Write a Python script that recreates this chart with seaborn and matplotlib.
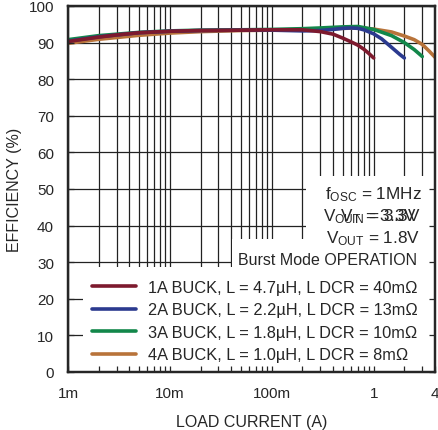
import numpy as np
import pandas as pd
import matplotlib
matplotlib.use("Agg")
import matplotlib.pyplot as plt
import matplotlib.ticker as mticker
from matplotlib.patches import Rectangle
import seaborn as sns

# efficiency curves
x_1a = [0.001, 0.002, 0.003, 0.005, 0.01, 0.02, 0.05, 0.1, 0.2, 0.3, 0.4, 0.5, 0.6, 0.7, 0.8, 0.9, 1.0]
eff_1a = [90.3, 91.5, 92.1, 92.7, 93.1, 93.3, 93.4, 93.5, 93.5, 93.0, 92.3, 91.2, 90.2, 89.3, 88.2, 87.0, 85.8]

x_2a = [0.001, 0.002, 0.005, 0.01, 0.02, 0.05, 0.1, 0.2, 0.3, 0.4, 0.5, 0.6, 0.7, 0.8, 1.0, 1.2, 1.5, 1.8, 2.0]
eff_2a = [90.4, 91.6, 92.7, 93.1, 93.3, 93.4, 93.4, 93.2, 93.3, 93.6, 93.9, 94.0, 93.9, 93.5, 92.4, 91.0, 88.7, 86.8, 85.8]

x_3a = [0.001, 0.002, 0.005, 0.01, 0.02, 0.05, 0.1, 0.2, 0.3, 0.5, 0.7, 1.0, 1.5, 2.0, 2.5, 3.0]
eff_3a = [90.8, 91.9, 92.8, 93.2, 93.4, 93.5, 93.6, 93.8, 94.0, 94.3, 94.4, 93.6, 91.9, 90.0, 88.1, 86.2]

x_4a = [0.001, 0.002, 0.005, 0.01, 0.02, 0.05, 0.1, 0.2, 0.5, 0.7, 1.0, 1.5, 2.0, 2.5, 3.0, 3.5, 4.0]
eff_4a = [89.8, 90.9, 92.0, 92.6, 93.0, 93.3, 93.4, 93.6, 93.9, 94.0, 93.7, 92.9, 91.8, 90.8, 89.5, 87.7, 86.0]

labels = [
    "1A BUCK, L = 4.7µH, L DCR = 40mΩ",
    "2A BUCK, L = 2.2µH, L DCR = 13mΩ",
    "3A BUCK, L = 1.8µH, L DCR = 10mΩ",
    "4A BUCK, L = 1.0µH, L DCR = 8mΩ",
]
colors = ["#7d1a2e", "#2b3a8f", "#12874a", "#b8733a"]

x_ticks = [0.001, 0.01, 0.1, 1, 4]
x_ticklabels = ["1m", "10m", "100m", "1", "4"]
y_ticks = list(range(0, 101, 10))

sns.set_style("white")
plt.rcParams["font.family"] = ["Liberation Sans", "DejaVu Sans"]
plt.rcParams["mathtext.fontset"] = "custom"
plt.rcParams["mathtext.rm"] = "Liberation Sans"
plt.rcParams["mathtext.it"] = "Liberation Sans"

series = [(x_1a, eff_1a), (x_2a, eff_2a), (x_3a, eff_3a), (x_4a, eff_4a)]

fig = plt.figure(figsize=(4.38, 4.31), dpi=100)
rect = [68 / 438, 58 / 431, 367 / 438, 366 / 431]
ax = fig.add_axes(rect)

# draw 4A first so the 1A curve ends up on top
handles = {}
for i in [3, 2, 1, 0]:
    xs, ys = series[i]
    df = pd.DataFrame({"current": xs, "eff": ys})
    sns.lineplot(data=df, x="current", y="eff", ax=ax, color=colors[i],
                 lw=2.6, sort=False, estimator=None, zorder=2, label=labels[i])
    handles[i] = ax.get_lines()[-1]

ax.set_xscale("log")
ax.set_xlim(0.001, 4)
ax.set_ylim(0, 100)
ax.set_xticks(x_ticks)
ax.set_xticklabels(x_ticklabels)
ax.xaxis.set_minor_locator(mticker.LogLocator(base=10, subs=np.arange(2, 10)))
ax.xaxis.set_minor_formatter(mticker.NullFormatter())
ax.set_yticks(y_ticks)
ax.set_axisbelow(True)
ax.grid(True, which="both", axis="x", color="#222222", lw=0.9)
ax.grid(True, which="major", axis="y", color="#222222", lw=0.9)
ax.tick_params(axis="both", which="both", length=0, labelsize=11, pad=10)
for s in ax.spines.values():
    s.set_linewidth(1.6)
    s.set_color("black")

ax.set_xlabel("LOAD CURRENT (A)", fontsize=11.5, labelpad=10)
ax.set_ylabel("EFFICIENCY (%)", fontsize=11.5, labelpad=5)

# white boxes masking the grid behind the text
for (x0, y0, w, h) in [(0.649, 0.336, 0.36, 0.20), (0.447, 0.287, 0.56, 0.076), (0.041, 0.0, 0.97, 0.287)]:
    ax.add_patch(Rectangle((x0, y0), w, h, transform=ax.transAxes,
                           facecolor="white", edgecolor="none", zorder=1))

tkw = dict(transform=ax.transAxes, ha="right", va="baseline", fontsize=12.3, zorder=3)
ax.text(0.965, 0.475, "f$_{\\mathregular{OSC}}$ = 1MHz", **tkw)
ax.text(0.952, 0.415, "V$_{\\mathregular{OUT}}$ = 3.3V", **tkw)
ax.text(0.960, 0.415, "V$_{\\mathregular{IN}}$ = 3.3V", **tkw)
ax.text(0.958, 0.355, "V$_{\\mathregular{OUT}}$ = 1.8V", **tkw)
ax.text(0.951, 0.295, "Burst Mode OPERATION", fontsize=11.5,
        transform=ax.transAxes, ha="right", va="baseline", zorder=3)

ax.legend([handles[i] for i in range(4)], labels, loc="upper left",
          bbox_to_anchor=(0.065, 0.252), frameon=False, fontsize=11.8,
          handlelength=2.7, handletextpad=0.75, labelspacing=0.46,
          borderpad=0, borderaxespad=0)

# overlay axes only for the inward ticks, drawn above the white boxes
ax_t = fig.add_axes(rect, sharex=ax, sharey=ax)
ax_t.patch.set_visible(False)
ax_t.tick_params(axis="both", which="both", direction="in", length=4.5, width=0.9,
                 top=False, right=True, left=True, bottom=True,
                 labelleft=False, labelbottom=False)
ax_t.set_xlabel("")
ax_t.set_ylabel("")
for s in ax_t.spines.values():
    s.set_linewidth(1.6)

fig.savefig("out.png", dpi=100)
